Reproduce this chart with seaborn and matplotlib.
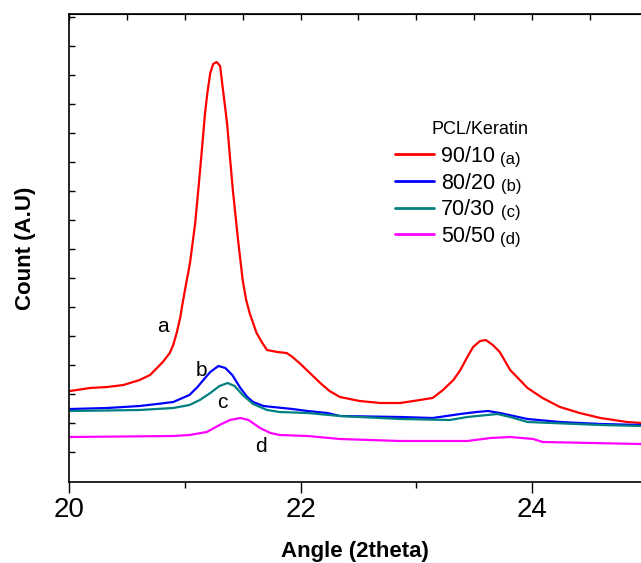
import numpy as np
import pandas as pd
import matplotlib
matplotlib.use("Agg")
import matplotlib.pyplot as plt
from matplotlib.ticker import FixedLocator
import seaborn as sns

# XRD patterns (angle in 2theta, counts in arbitrary units)
angle_a = [20.01, 20.18, 20.33, 20.47, 20.61, 20.70, 20.76, 20.81, 20.87, 20.90, 20.93, 20.96,
           20.98, 21.00, 21.045, 21.09, 21.13, 21.155, 21.175, 21.195, 21.22, 21.245, 21.275, 21.305,
           21.33, 21.365, 21.39, 21.415, 21.46, 21.50, 21.53, 21.56, 21.62, 21.67, 21.71, 21.80,
           21.88, 21.93, 21.99, 22.08, 22.17, 22.25, 22.34, 22.51, 22.69, 22.86, 23.03, 23.14,
           23.23, 23.32, 23.38, 23.44, 23.49, 23.55, 23.60, 23.66, 23.72, 23.81, 23.96, 24.09,
           24.24, 24.41, 24.59, 24.82, 24.94]
count_a = [91, 94, 95, 97, 102, 107, 114, 120, 129, 137, 149, 164,
           178, 191, 219, 259, 309, 342, 369, 389, 409, 418, 420, 416,
           392, 359, 325, 292, 242, 202, 182, 169, 149, 139, 132, 130,
           129, 125, 119, 109, 99, 91, 85, 81, 79, 79, 82, 84,
           92, 102, 112, 125, 135, 141, 142, 137, 130, 112, 94, 84,
           75, 69, 64, 60, 59]

angle_b = [20.01, 20.33, 20.61, 20.76, 20.90, 20.98, 21.04, 21.11, 21.16, 21.22, 21.29, 21.35,
           21.41, 21.48, 21.54, 21.59, 21.68, 21.76, 21.93, 22.06, 22.23, 22.34, 22.86, 23.14,
           23.38, 23.52, 23.62, 23.72, 23.96, 24.24, 24.59, 24.94]
count_b = [73, 74, 76, 78, 80, 84, 87, 95, 102, 110, 116, 114,
           107, 94, 85, 80, 76, 75, 73, 71, 69, 66, 65, 64,
           68, 70, 71, 69, 63, 60, 58, 57]

angle_c = [20.01, 20.61, 20.90, 21.04, 21.13, 21.22, 21.30, 21.37, 21.43, 21.50, 21.59, 21.71,
           21.82, 22.06, 22.34, 22.86, 23.29, 23.44, 23.70, 23.81, 23.96, 24.59, 24.94]
count_c = [71, 72, 74, 77, 82, 89, 96, 99, 96, 87, 78, 72,
           70, 69, 66, 63, 62, 65, 68, 65, 60, 57, 56]

angle_d = [20.01, 20.90, 21.04, 21.19, 21.30, 21.39, 21.48, 21.55, 21.65, 21.74, 21.82, 22.06,
           22.34, 22.86, 23.44, 23.64, 23.81, 24.01, 24.09, 24.94]
count_d = [45, 46, 47, 50, 57, 62, 64, 62, 54, 49, 47, 46,
           43, 41, 41, 44, 45, 43, 40, 38]

samples = ["90/10", "80/20", "70/30", "50/50"]
tags = ["(a)", "(b)", "(c)", "(d)"]
letters = ["a", "b", "c", "d"]
letter_pos = [(20.81, 156), (21.14, 112), (21.32, 79), (21.66, 35)]
colors = ["#ff0000", "#0000ff", "#008080", "#ff00ff"]

frames = []
for name, xs, ys in zip(samples, [angle_a, angle_b, angle_c, angle_d],
                        [count_a, count_b, count_c, count_d]):
    frames.append(pd.DataFrame({"angle": xs, "count": ys, "sample": name}))
df = pd.concat(frames, ignore_index=True)

sns.set_style("ticks", {"text.color": "black", "axes.labelcolor": "black",
                        "xtick.color": "black", "ytick.color": "black",
                        "axes.edgecolor": "black"})
plt.rcParams["font.family"] = ["Liberation Sans", "DejaVu Sans"]

W, H = 641, 563
fig = plt.figure(figsize=(W / 100, H / 100), dpi=100)
ax = fig.add_axes([69 / W, 81 / H, 572 / W, 468 / H])

sns.lineplot(data=df, x="angle", y="count", hue="sample", hue_order=samples,
             palette=dict(zip(samples, colors)), estimator=None, sort=False,
             linewidth=1.6, ax=ax)

ax.set_xlim(20, 24.94)
ax.set_ylim(0, 468)

# bottom axis: labelled majors, outward ticks
ax.xaxis.set_major_locator(FixedLocator([20, 22, 24]))
ax.xaxis.set_minor_locator(FixedLocator([21, 23]))
ax.tick_params(axis="x", which="major", direction="out", length=8, width=1,
               labelsize=20, pad=3, colors="black")
ax.tick_params(axis="x", which="minor", direction="out", length=4, width=1)
ax.tick_params(axis="y", which="major", direction="in", length=4, width=1, labelleft=False)
ax.yaxis.set_major_locator(FixedLocator(np.arange(30, 468, 29)))

# top axis: inward ticks every 0.5
top = ax.secondary_xaxis("top")
top.set_xticks(np.arange(20, 25, 0.5))
top.tick_params(direction="in", length=4, width=1, labeltop=False)
top.spines["top"].set_linewidth(1.2)

for side in ["left", "bottom"]:
    ax.spines[side].set_linewidth(1.2)
ax.spines["right"].set_visible(False)

ax.set_xlabel("Angle (2theta)", fontsize=16, fontweight="bold", labelpad=13)
ax.set_ylabel("Count (A.U)", fontsize=16, fontweight="bold", labelpad=24)

for let, (lx, ly) in zip(letters, letter_pos):
    ax.text(lx, ly, let, fontsize=15, ha="center", va="center")

leg = ax.legend(frameon=False, fontsize=15.5, handlelength=1.8, handletextpad=0.33,
                labelspacing=0.26, borderpad=0, borderaxespad=0, loc="upper left",
                bbox_to_anchor=((395 - 69) / 572, (482 - 146) / 468))
for line in leg.get_lines():
    line.set_linewidth(2)
for txt, tag in zip(leg.get_texts(), tags):
    ax.annotate(tag, xy=(1, 0), xycoords=txt, xytext=(4, 0), zorder=10,
                textcoords="offset points", fontsize=12, va="bottom", ha="left")
fig.text(480 / W, 1 - 130 / H, "PCL/Keratin", fontsize=13, ha="center", va="center")

fig.savefig("out.png", dpi=100)
